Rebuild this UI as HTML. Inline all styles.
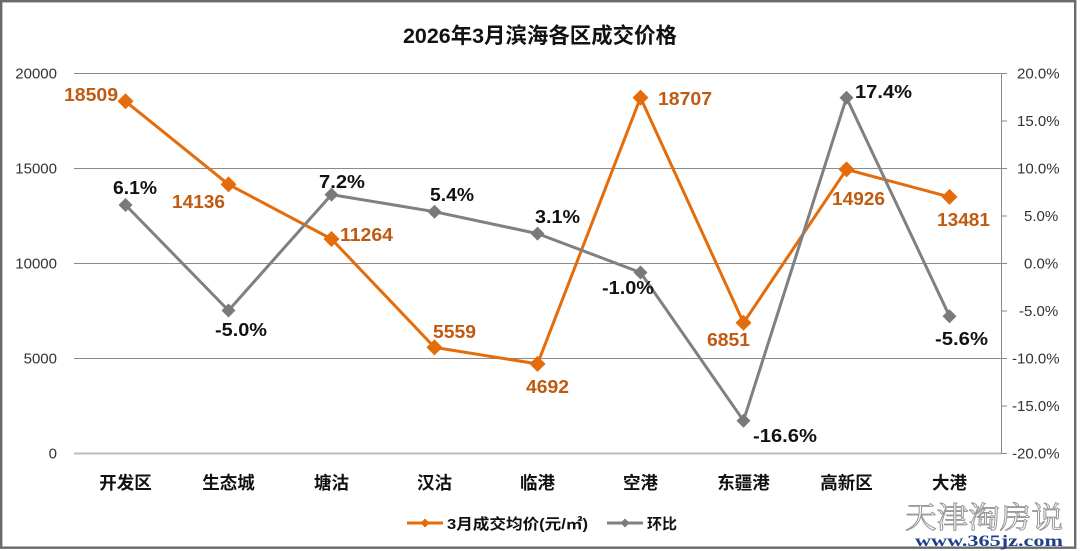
<!DOCTYPE html>
<html><head><meta charset="utf-8"><style>
html,body{margin:0;padding:0;background:#fff;}
svg{display:block;}
.t{font-family:"Liberation Sans","Noto Sans CJK SC",sans-serif;}
</style></head><body>
<svg width="1080" height="551" viewBox="0 0 1080 551" xmlns="http://www.w3.org/2000/svg">
<rect x="0" y="0" width="1080" height="551" fill="#fff"/>
<rect x="1.2" y="1.2" width="1074" height="546.5" fill="none" stroke="#6a6a6a" stroke-width="2.4"/>

<!-- title -->
<text class="t" x="540" y="43" text-anchor="middle" font-size="21.5" font-weight="bold" fill="#111" textLength="274" lengthAdjust="spacingAndGlyphs">2026年3月滨海各区成交价格</text>

<!-- gridlines -->
<g stroke="#8a8a8a" stroke-width="1">
<line x1="74" y1="73.5" x2="1001" y2="73.5"/>
<line x1="74" y1="168.5" x2="1001" y2="168.5"/>
<line x1="74" y1="263.5" x2="1001" y2="263.5"/>
<line x1="74" y1="358.5" x2="1001" y2="358.5"/>
</g>
<line x1="74" y1="453.5" x2="1001" y2="453.5" stroke="#bdbdbd" stroke-width="2"/>
<!-- right axis -->
<line x1="1001.5" y1="73" x2="1001.5" y2="454" stroke="#8a8a8a" stroke-width="1"/>
<g stroke="#8a8a8a" stroke-width="1">
<line x1="1001" y1="73.5" x2="1007" y2="73.5"/>
<line x1="1001" y1="121" x2="1007" y2="121"/>
<line x1="1001" y1="168.5" x2="1007" y2="168.5"/>
<line x1="1001" y1="216" x2="1007" y2="216"/>
<line x1="1001" y1="263.5" x2="1007" y2="263.5"/>
<line x1="1001" y1="311" x2="1007" y2="311"/>
<line x1="1001" y1="358.5" x2="1007" y2="358.5"/>
<line x1="1001" y1="406" x2="1007" y2="406"/>
<line x1="1001" y1="453.5" x2="1007" y2="453.5"/>
</g>

<!-- left axis labels -->
<g class="t" font-size="15" fill="#333" text-anchor="end">
<text x="57" y="78.5">20000</text>
<text x="57" y="173.5">15000</text>
<text x="57" y="268.5">10000</text>
<text x="57" y="363.5">5000</text>
<text x="57" y="458.5">0</text>
</g>
<!-- right axis labels -->
<g class="t" font-size="15" fill="#333" text-anchor="start">
<text x="1017" y="78.5">20.0%</text>
<text x="1017" y="126">15.0%</text>
<text x="1017" y="173.5">10.0%</text>
<text x="1024" y="221">5.0%</text>
<text x="1024" y="268.5">0.0%</text>
<text x="1019" y="316">-5.0%</text>
<text x="1012" y="363.5">-10.0%</text>
<text x="1012" y="411">-15.0%</text>
<text x="1012" y="458.5">-20.0%</text>
</g>

<!-- category labels -->
<g class="t" font-size="17.5" font-weight="bold" fill="#111" text-anchor="middle">
<text x="125.5" y="489">开发区</text>
<text x="228.5" y="489">生态城</text>
<text x="331.5" y="489">塘沽</text>
<text x="434.5" y="489">汉沽</text>
<text x="537.5" y="489">临港</text>
<text x="640.5" y="489">空港</text>
<text x="743.5" y="489">东疆港</text>
<text x="846.5" y="489">高新区</text>
<text x="949.5" y="489">大港</text>
</g>

<!-- orange series -->
<polyline fill="none" stroke="#E46C0A" stroke-width="3" stroke-linejoin="round" points="125.5,101.3 228.5,184.4 331.5,239 434.5,347.4 537.5,363.9 640.5,97.6 743.5,322.8 846.5,169.4 949.5,196.9"/>
<g fill="#E46C0A">
<path d="M125.5,93.3 l8,8 -8,8 -8,-8z"/>
<path d="M228.5,176.4 l8,8 -8,8 -8,-8z"/>
<path d="M331.5,231 l8,8 -8,8 -8,-8z"/>
<path d="M434.5,339.4 l8,8 -8,8 -8,-8z"/>
<path d="M537.5,355.9 l8,8 -8,8 -8,-8z"/>
<path d="M640.5,89.6 l8,8 -8,8 -8,-8z"/>
<path d="M743.5,314.8 l8,8 -8,8 -8,-8z"/>
<path d="M846.5,161.4 l8,8 -8,8 -8,-8z"/>
<path d="M949.5,188.9 l8,8 -8,8 -8,-8z"/>
</g>

<!-- gray series -->
<polyline fill="none" stroke="#808080" stroke-width="3" stroke-linejoin="round" points="125.5,205 228.5,310.5 331.5,194.6 434.5,211.7 537.5,233.6 640.5,272.5 743.5,420.7 846.5,97.7 949.5,316.2"/>
<g fill="#7a7a7a">
<path d="M125.5,198 l7,7 -7,7 -7,-7z"/>
<path d="M228.5,303.5 l7,7 -7,7 -7,-7z"/>
<path d="M331.5,187.6 l7,7 -7,7 -7,-7z"/>
<path d="M434.5,204.7 l7,7 -7,7 -7,-7z"/>
<path d="M537.5,226.6 l7,7 -7,7 -7,-7z"/>
<path d="M640.5,265.5 l7,7 -7,7 -7,-7z"/>
<path d="M743.5,413.7 l7,7 -7,7 -7,-7z"/>
<path d="M846.5,90.7 l7,7 -7,7 -7,-7z"/>
<path d="M949.5,309.2 l7,7 -7,7 -7,-7z"/>
</g>

<!-- orange labels -->
<g class="t" font-size="18" font-weight="bold" fill="#C05A10" lengthAdjust="spacingAndGlyphs">
<text x="64" y="101" textLength="54" lengthAdjust="spacingAndGlyphs">18509</text>
<text x="172" y="208" textLength="53" lengthAdjust="spacingAndGlyphs">14136</text>
<text x="340" y="241" textLength="53" lengthAdjust="spacingAndGlyphs">11264</text>
<text x="433" y="338" textLength="43" lengthAdjust="spacingAndGlyphs">5559</text>
<text x="526" y="393" textLength="43" lengthAdjust="spacingAndGlyphs">4692</text>
<text x="658" y="105" textLength="54" lengthAdjust="spacingAndGlyphs">18707</text>
<text x="707" y="346" textLength="43" lengthAdjust="spacingAndGlyphs">6851</text>
<text x="832" y="205" textLength="53" lengthAdjust="spacingAndGlyphs">14926</text>
<text x="937" y="226" textLength="53" lengthAdjust="spacingAndGlyphs">13481</text>
</g>

<!-- gray labels -->
<g class="t" font-size="18" font-weight="bold" fill="#111">
<text x="113" y="194" textLength="44" lengthAdjust="spacingAndGlyphs">6.1%</text>
<text x="215" y="336" textLength="52" lengthAdjust="spacingAndGlyphs">-5.0%</text>
<text x="319" y="188" textLength="46" lengthAdjust="spacingAndGlyphs">7.2%</text>
<text x="430" y="201" textLength="44" lengthAdjust="spacingAndGlyphs">5.4%</text>
<text x="535" y="223" textLength="45" lengthAdjust="spacingAndGlyphs">3.1%</text>
<text x="602" y="294" textLength="52" lengthAdjust="spacingAndGlyphs">-1.0%</text>
<text x="753" y="442" textLength="64" lengthAdjust="spacingAndGlyphs">-16.6%</text>
<text x="855" y="98" textLength="57" lengthAdjust="spacingAndGlyphs">17.4%</text>
<text x="935" y="345" textLength="53" lengthAdjust="spacingAndGlyphs">-5.6%</text>
</g>

<!-- legend -->
<line x1="407" y1="523" x2="443" y2="523" stroke="#E46C0A" stroke-width="3"/>
<path d="M425,518.5 l4.5,4.5 -4.5,4.5 -4.5,-4.5z" fill="#E46C0A"/>
<text class="t" x="447" y="529" font-size="15" font-weight="bold" fill="#111" textLength="141" lengthAdjust="spacingAndGlyphs">3月成交均价(元/㎡)</text>
<line x1="607" y1="523" x2="643" y2="523" stroke="#808080" stroke-width="3"/>
<path d="M625,518.5 l4.5,4.5 -4.5,4.5 -4.5,-4.5z" fill="#7a7a7a"/>
<text class="t" x="647" y="529" font-size="15" font-weight="bold" fill="#111" textLength="30" lengthAdjust="spacingAndGlyphs">环比</text>

<!-- watermark -->
<text x="905" y="528" font-family="'Noto Serif CJK SC','Noto Sans CJK SC',serif" font-size="30" fill="#fff" stroke="#9a9a9a" stroke-width="1" textLength="158" lengthAdjust="spacingAndGlyphs">天津淘房说</text>
<text x="915" y="546" font-family="'Liberation Serif',serif" font-size="16" font-weight="bold" fill="#1F3F8A" textLength="148" lengthAdjust="spacingAndGlyphs">www.365jz.com</text>
</svg>
</body></html>
